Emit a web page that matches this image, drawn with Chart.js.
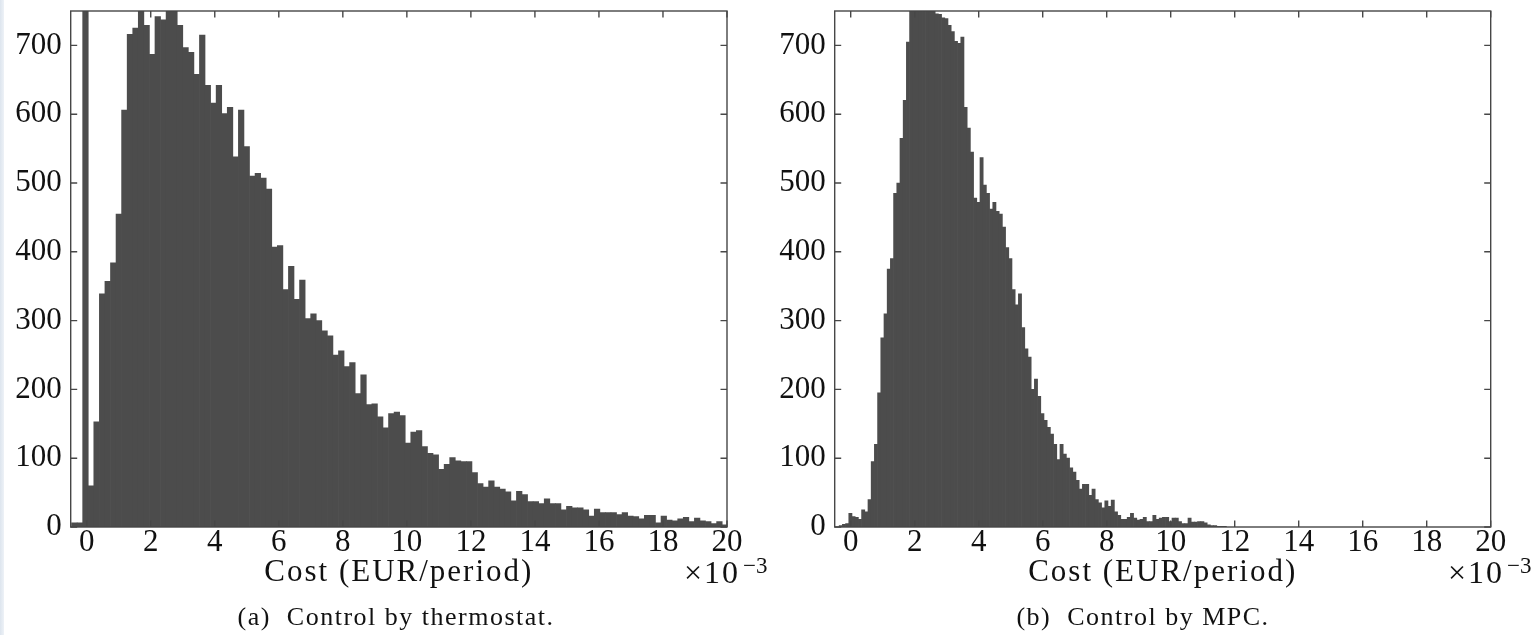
<!DOCTYPE html>
<html>
<head>
<meta charset="utf-8">
<script src="https://cdn.jsdelivr.net/npm/chart.js@4.4.1/dist/chart.umd.min.js"></script>
<style>
  html, body { margin: 0; padding: 0; background: #ffffff; }
  body { width: 1540px; height: 635px; position: relative; overflow: hidden; font-family: "Liberation Serif", serif; color: #111; }
  canvas { position: absolute; top: 0; }
  .edge { position: absolute; left: 0; top: 0; width: 4px; height: 635px; background: linear-gradient(to right, #dde5ee, #eef2f7); }
  .txt { position: absolute; white-space: nowrap; color: #111; font-family: "Liberation Serif", serif; }
  .mult { font-size: 32px; line-height: 32px; letter-spacing: 2px; }
  .sup { font-size: 23px; line-height: 23px; }
  .cap { font-size: 26px; line-height: 26px; letter-spacing: 1.5px; text-align: center; width: 600px; }
</style>
</head>
<body>
<div class="edge"></div>
<canvas id="thermo" width="760" height="635" style="left:0px"></canvas>
<canvas id="mpc" width="770" height="635" style="left:770px"></canvas>

<div class="txt mult" style="left:684px; top:556px;">×10</div>
<div class="txt sup" style="left:743px; top:554px;">−3</div>
<div class="txt mult" style="left:1448px; top:556px;">×10</div>
<div class="txt sup" style="left:1507px; top:554px;">−3</div>

<div class="txt cap" style="left:96px; top:604px;">(a)&nbsp; Control by thermostat.</div>
<div class="txt cap" style="left:843px; top:604px;">(b)&nbsp; Control by MPC.</div>

<script>
// ---- data (counts per histogram bin, cost in units of 1e-3 EUR/period) ----
const xTickValues = [0, 2, 4, 6, 8, 10, 12, 14, 16, 18, 20];
const yTickValues = [0, 100, 200, 300, 400, 500, 600, 700];

const thermostatBinStart = -0.473;
const thermostatBinWidth = 0.1737;
const thermostatCounts = [
  6, 6, 1500, 60, 153, 339, 357, 384, 455, 606,
  716, 725, 765, 729, 687, 742, 737, 770, 762, 729,
  697, 690, 658, 715, 642, 616, 642, 601, 610, 538,
  606, 553, 510, 514, 507, 491, 407, 409, 345, 379,
  331, 359, 303, 310, 300, 285, 278, 250, 256, 233,
  239, 194, 221, 178, 179, 160, 144, 165, 167, 162,
  122, 138, 140, 117, 107, 105, 84, 91, 101, 96,
  95, 95, 79, 63, 58, 67, 58, 55, 51, 38,
  52, 47, 37, 37, 34, 41, 34, 34, 25, 30,
  28, 28, 25, 16, 26, 21, 21, 21, 18, 21,
  16, 15, 12, 17, 17, 6, 16, 10, 9, 12,
  14, 8, 13, 9, 8, 5, 8, 3
];

const mpcBinStart = -0.36;
const mpcBinWidth = 0.1;
const mpcCounts = [
  2, 4, 5, 20, 15, 14, 11, 25, 22, 40,
  95, 120, 195, 275, 310, 375, 390, 485, 500, 565,
  620, 705, 758, 772, 786, 795, 790, 781, 770, 756,
  746, 745, 740, 739, 729, 720, 706, 703, 712, 610,
  580, 545, 478, 472, 537, 497, 485, 462, 472, 459,
  455, 436, 406, 390, 345, 323, 339, 290, 259, 247,
  200, 215, 190, 165, 155, 145, 135, 120, 98, 120,
  106, 100, 86, 80, 68, 55, 62, 62, 46, 55,
  40, 35, 28, 38, 30, 39, 22, 17, 11, 11,
  14, 20, 13, 10, 11, 14, 8, 8, 17, 11,
  13, 14, 14, 8, 13, 13, 8, 5, 5, 13,
  7, 7, 8, 8, 6, 3, 2, 2, 1, 1,
  1
];

const axisTitle = 'Cost (EUR/period)';

// ---- helpers ----
function binPoints(start, width, counts) {
  return counts.map((c, i) => ({ x: start + width * (i + 0.5), y: c }));
}

const TEXT = '#111111';
const BAR = '#4c4c4c';
const FRAME = '#474747';

const framePlugin = {
  id: 'matlabFrame',
  beforeDraw(chart) { chart.ctx.letterSpacing = '2px'; },
  beforeDatasetsDraw(chart) { chart.ctx.letterSpacing = '0px'; },
  afterDatasetsDraw(chart) {
    const { ctx, chartArea: a, scales: { x, y } } = chart;
    const TL = 6.5;
    ctx.save();
    ctx.strokeStyle = FRAME;
    ctx.lineWidth = 1.4;
    ctx.beginPath();
    xTickValues.forEach(v => {
      const px = x.getPixelForValue(v);
      ctx.moveTo(px, a.bottom); ctx.lineTo(px, a.bottom - TL);
      ctx.moveTo(px, a.top); ctx.lineTo(px, a.top + TL);
    });
    yTickValues.forEach(v => {
      const py = y.getPixelForValue(v);
      ctx.moveTo(a.left, py); ctx.lineTo(a.left + TL, py);
      ctx.moveTo(a.right, py); ctx.lineTo(a.right - TL, py);
    });
    ctx.stroke();
    ctx.strokeRect(a.left, a.top, a.right - a.left, a.bottom - a.top);
    ctx.restore();
  }
};

function makeChart(canvasId, points, yAxisWidth, rightPad) {
  const tickFont = { family: 'Liberation Serif', size: 31, lineHeight: 1 };
  return new Chart(document.getElementById(canvasId), {
    type: 'bar',
    data: {
      datasets: [{
        data: points,
        backgroundColor: BAR,
        borderWidth: 0,
        barPercentage: 1,
        categoryPercentage: 1
      }]
    },
    options: {
      responsive: false,
      maintainAspectRatio: false,
      devicePixelRatio: 1,
      animation: false,
      events: [],
      layout: { padding: { top: 11, right: rightPad, left: 0, bottom: 0 } },
      plugins: { legend: { display: false }, tooltip: { enabled: false }, title: { display: false } },
      scales: {
        x: {
          type: 'linear',
          min: -0.5,
          max: 20,
          offset: false,
          afterBuildTicks: s => { s.ticks = xTickValues.map(v => ({ value: v })); },
          afterFit: s => { s.height = 108; s.paddingLeft = 0; s.paddingRight = 0; },
          grid: { display: false, drawTicks: false, offset: false },
          border: { display: false },
          ticks: { font: tickFont, color: TEXT, padding: 0.5, maxRotation: 0, autoSkip: false, z: 1 },
          title: {
            display: true,
            text: axisTitle,
            color: TEXT,
            font: { family: 'Liberation Serif', size: 31, lineHeight: 1 },
            padding: { top: 0, bottom: 47 }
          }
        },
        y: {
          type: 'linear',
          min: 0,
          max: 750,
          afterBuildTicks: s => { s.ticks = yTickValues.map(v => ({ value: v })); },
          afterFit: s => { s.width = yAxisWidth; s.paddingTop = 0; s.paddingBottom = 0; },
          grid: { display: false, drawTicks: false },
          border: { display: false },
          ticks: { font: tickFont, color: TEXT, padding: 9, z: 1 }
        }
      }
    },
    plugins: [framePlugin]
  });
}

makeChart('thermo', binPoints(thermostatBinStart, thermostatBinWidth, thermostatCounts), 70.7, 33);
makeChart('mpc', binPoints(mpcBinStart, mpcBinWidth, mpcCounts), 64.7, 49.3);
</script>
</body>
</html>
